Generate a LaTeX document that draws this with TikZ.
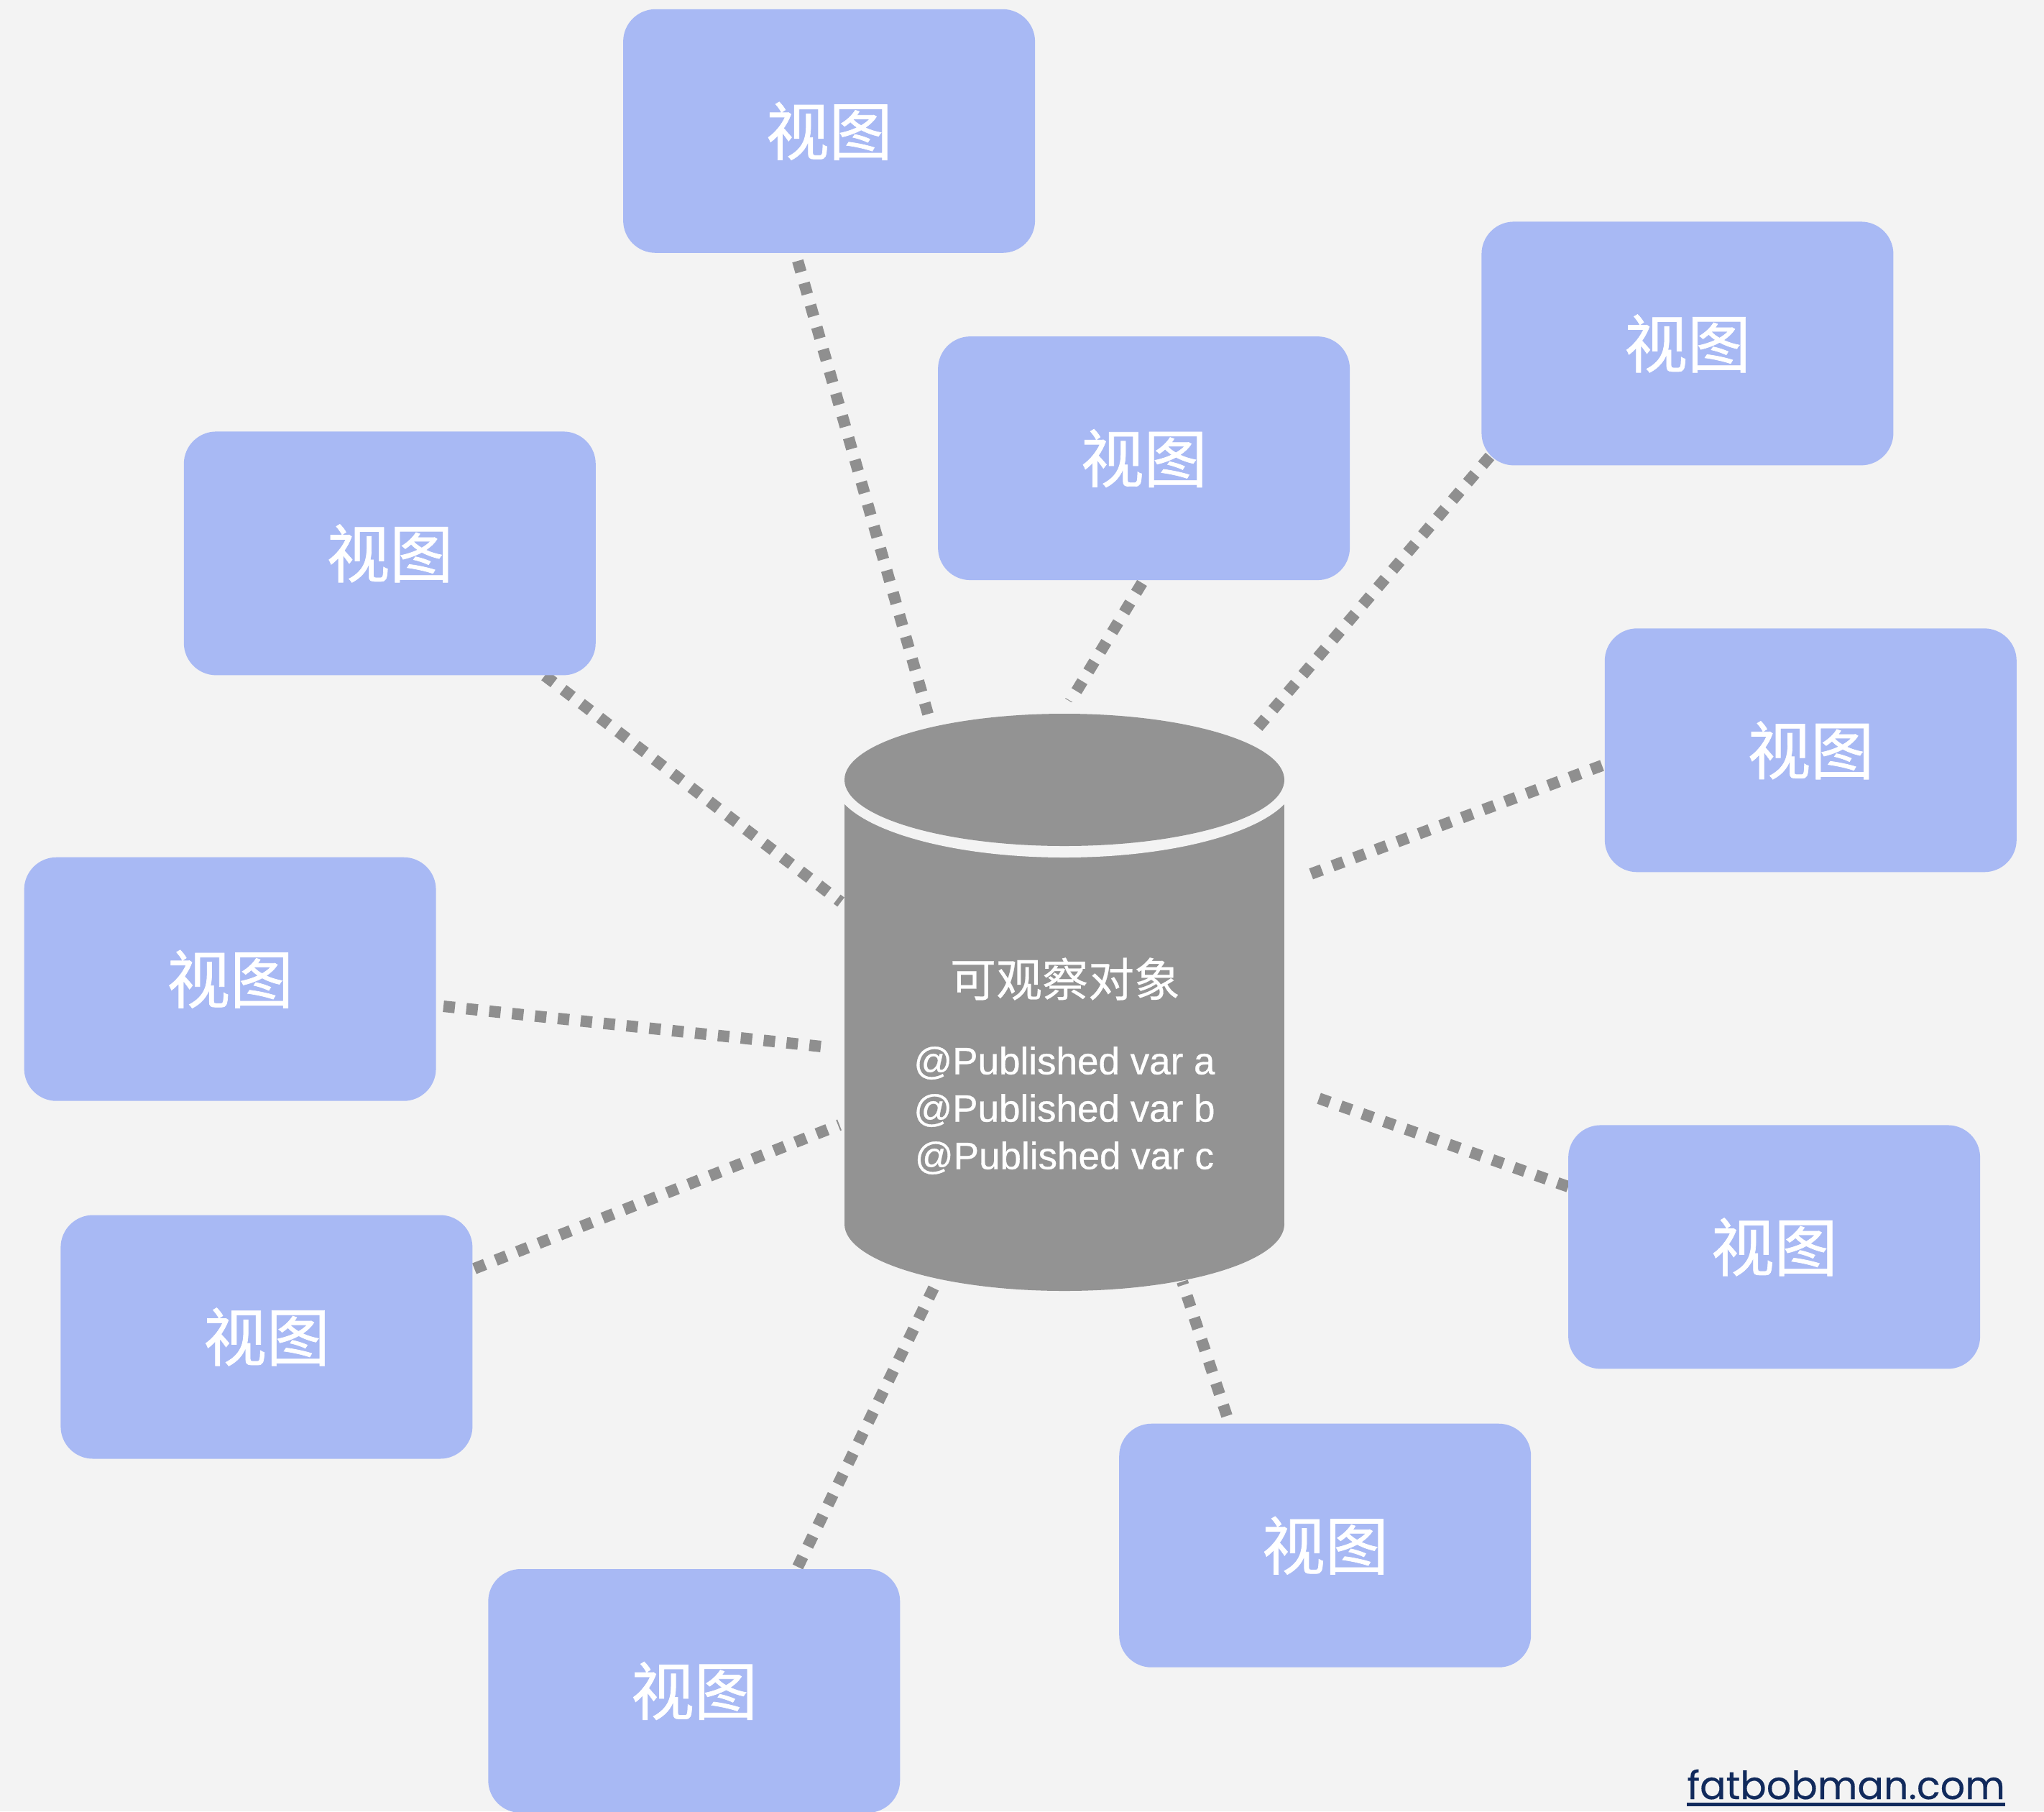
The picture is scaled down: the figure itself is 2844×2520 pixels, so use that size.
\documentclass[tikz,border=0pt]{standalone}
\usepackage{fontspec}
\setmainfont{Liberation Sans}
\newfontfamily\latm[FakeBold=0.6]{Liberation Sans}
\newfontfamily\cjkt[FakeBold=0.4]{Noto Sans CJK SC}
\newfontfamily\cjkb[FakeBold=0.8]{Noto Sans CJK SC}
\newfontfamily\wmfont[FakeBold=0.3]{Poppins}
\usetikzlibrary{calc}
\definecolor{bgc}{HTML}{F3F3F3}
\definecolor{boxc}{HTML}{A8B9F4}
\definecolor{cylc}{HTML}{939393}
\definecolor{dotc}{HTML}{8F8F8F}
\definecolor{wmc}{HTML}{112A5C}
\tikzset{
  viewbox/.style={fill=boxc, draw=none, rounded corners=45pt, minimum width=573pt, minimum height=339pt, inner sep=0pt, text=white, font=\cjkb\fontsize{88}{96}\selectfont},
  conn/.style={draw=dotc, line width=16pt, dash pattern=on 16pt off 16pt},
}
\begin{document}
\begin{tikzpicture}[x=1pt,y=-1pt]
\fill[bgc] (0,0) rectangle (2844,2520);
\useasboundingbox (0,0) rectangle (2844,2520);

% connector ends
\coordinate (s1) at (1110,363);  \coordinate (t1) at (1293,1000);
\coordinate (s2) at (1589,811);  \coordinate (t2) at (1489,976);
\coordinate (s3) at (2073,635);  \coordinate (t3) at (1750,1012);
\coordinate (s4) at (758,940);   \coordinate (t4) at (1170,1255);
\coordinate (s5) at (2229,1065); \coordinate (t5) at (1821,1217);
\coordinate (s6) at (617,1400);  \coordinate (t6) at (1143,1456);
\coordinate (s7) at (660,1765);  \coordinate (t7) at (1168,1565);
\coordinate (s8) at (2182,1651); \coordinate (t8) at (1832,1527);
\coordinate (s9) at (1707,1970); \coordinate (t9) at (1645,1783);
\coordinate (s10) at (1110,2180);\coordinate (t10) at (1299,1792);

\foreach \i in {1,...,10} { \draw[conn] (s\i) -- (t\i); }

% view boxes
\node[viewbox] (v1)  at (1153.6,182.3)  {视图};
\node[viewbox] (v2)  at (1591.6,637.6)  {视图};
\node[viewbox] (v3)  at (2347.9,477.9)  {视图};
\node[viewbox] (v4)  at (542.3,769.9)   {视图};
\node[viewbox] (v5)  at (2519.3,1043.8) {视图};
\node[viewbox] (v6)  at (320.1,1362.2)  {视图};
\node[viewbox] (v7)  at (370.9,1860.0)  {视图};
\node[viewbox] (v8)  at (2468.6,1734.9) {视图};
\node[viewbox] (v9)  at (1843.7,2150.2) {视图};
\node[viewbox] (v10) at (965.8,2352.5)  {视图};

% cylinder
\fill[cylc] (1175,1085) rectangle (1787,1703);
\fill[cylc] (1481,1703) ellipse [x radius=306, y radius=93];
\fill[bgc]  (1481,1085) ellipse [x radius=322, y radius=108];
\fill[cylc] (1481,1085) ellipse [x radius=306, y radius=92];

\node[text=white, font=\cjkt\fontsize{64}{70}\selectfont, inner sep=0pt] (title) at (1482,1362) {可观察对象};
\node[text=white, font=\latm\fontsize{53}{66}\selectfont, align=center, inner sep=0pt] (vars) at (1481,1545)
  {@Published var a\\@Published var b\\@Published var c};

% watermark
\node[anchor=base east, text=wmc, font=\wmfont\fontsize{54}{60}\selectfont, inner sep=0pt] (wm) at (2790,2503) {fatbobman.com};
\fill[wmc] ($(wm.base west)+(0,5)$) rectangle ($(wm.base east)+(0,10)$);
\end{tikzpicture}
\end{document}
